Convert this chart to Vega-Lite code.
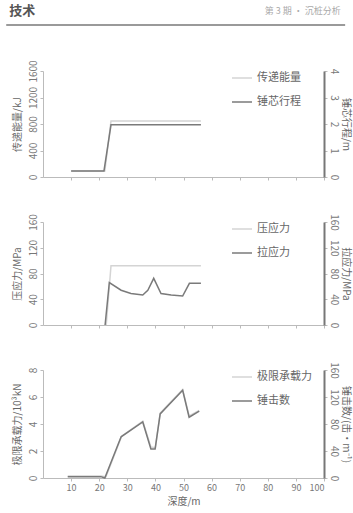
{
  "$schema": "https://vega.github.io/schema/vega-lite/v6.json",
  "padding": {"left": 5, "top": 5, "right": 3, "bottom": 2},
  "background": "white",
  "config": {
    "font": "Noto Sans CJK SC",
    "view": {"stroke": null},
    "axis": {"labelColor": "#777", "titleColor": "#666", "labelFontSize": 10, "titleFontSize": 10, "titleFontWeight": "normal", "grid": false, "tickColor": "#bbb", "domainColor": "#bbb", "tickSize": 3, "labelOverlap": false, "format": "d"},
    "legend": {"labelColor": "#666", "labelFontSize": 11, "symbolType": "stroke", "symbolSize": 400, "symbolStrokeWidth": 1.5, "rowPadding": 8, "padding": 0, "title": null, "orient": "none", "legendX": 188, "legendY": -4}
  },
  "datasets": {
    "head": [
      {"side": "left", "t": "技术"},
      {"side": "right", "t": "第 3 期 · 沉桩分析"}
    ],
    "p1": [
      {"series": "传递能量", "depth": 10, "value": 90},
      {"series": "传递能量", "depth": 22, "value": 90},
      {"series": "传递能量", "depth": 24.2, "value": 845},
      {"series": "传递能量", "depth": 56.2, "value": 845},
      {"series": "锤芯行程", "depth": 10, "value": 0.23},
      {"series": "锤芯行程", "depth": 21.7, "value": 0.23},
      {"series": "锤芯行程", "depth": 24.2, "value": 1.97},
      {"series": "锤芯行程", "depth": 56.2, "value": 1.97}
    ],
    "p2": [
      {"series": "压应力", "depth": 22.5, "value": 0},
      {"series": "压应力", "depth": 24.2, "value": 92},
      {"series": "压应力", "depth": 56.2, "value": 92},
      {"series": "拉应力", "depth": 22.1, "value": 0},
      {"series": "拉应力", "depth": 23.6, "value": 66},
      {"series": "拉应力", "depth": 27.8, "value": 54},
      {"series": "拉应力", "depth": 31.3, "value": 49},
      {"series": "拉应力", "depth": 35.5, "value": 46.6},
      {"series": "拉应力", "depth": 37.3, "value": 54},
      {"series": "拉应力", "depth": 39.4, "value": 72.5},
      {"series": "拉应力", "depth": 42, "value": 49},
      {"series": "拉应力", "depth": 45.6, "value": 46.6},
      {"series": "拉应力", "depth": 49.7, "value": 45},
      {"series": "拉应力", "depth": 52.1, "value": 64.8},
      {"series": "拉应力", "depth": 56.2, "value": 64.8}
    ],
    "p3": [
      {"series": "极限承载力", "depth": 8.8, "value": 0.15},
      {"series": "极限承载力", "depth": 20.6, "value": 0.15},
      {"series": "极限承载力", "depth": 22.4, "value": 0.1},
      {"series": "极限承载力", "depth": 28, "value": 3.1},
      {"series": "极限承载力", "depth": 35.5, "value": 4.2},
      {"series": "极限承载力", "depth": 38.4, "value": 2.3},
      {"series": "极限承载力", "depth": 40, "value": 2.25},
      {"series": "极限承载力", "depth": 41.7, "value": 4.8},
      {"series": "极限承载力", "depth": 49.7, "value": 6.55},
      {"series": "极限承载力", "depth": 52, "value": 4.6},
      {"series": "极限承载力", "depth": 55.6, "value": 5.0},
      {"series": "锤击数", "depth": 8.8, "value": 2},
      {"series": "锤击数", "depth": 20.6, "value": 2},
      {"series": "锤击数", "depth": 22, "value": 0},
      {"series": "锤击数", "depth": 27.8, "value": 61},
      {"series": "锤击数", "depth": 35.5, "value": 83},
      {"series": "锤击数", "depth": 38.4, "value": 43},
      {"series": "锤击数", "depth": 39.9, "value": 43},
      {"series": "锤击数", "depth": 41.7, "value": 95},
      {"series": "锤击数", "depth": 49.7, "value": 130},
      {"series": "锤击数", "depth": 52, "value": 90},
      {"series": "锤击数", "depth": 55.6, "value": 99}
    ]
  },
  "resolve": {"scale": {"color": "independent"}, "legend": {"color": "independent"}},
  "spacing": 24,
  "vconcat": [
    {
      "width": 281, "height": 0,
      "data": {"name": "head"},
      "layer": [
        {
          "mark": {"type": "rule", "color": "#9a9a9a", "strokeWidth": 2},
          "encoding": {
            "x": {"datum": -0.13, "type": "quantitative", "scale": {"domain": [0, 1]}, "axis": null},
            "x2": {"datum": 1.075}
          }
        },
        {
          "transform": [{"filter": "datum.side === 'left'"}],
          "mark": {"type": "text", "align": "left", "dy": -14, "fontSize": 13, "fontWeight": "bold", "color": "#555"},
          "encoding": {
            "x": {"datum": -0.12, "type": "quantitative"},
            "text": {"field": "t"}
          }
        },
        {
          "transform": [{"filter": "datum.side === 'right'"}],
          "mark": {"type": "text", "align": "right", "dy": -14, "fontSize": 9, "color": "#aaa"},
          "encoding": {
            "x": {"datum": 1.06, "type": "quantitative"},
            "text": {"field": "t"}
          }
        }
      ]
    },
    {
      "spacing": 32,
      "resolve": {"scale": {"color": "independent"}, "legend": {"color": "independent"}},
      "vconcat": [
        {
          "width": 281, "height": 106,
          "data": {"name": "p1"},
          "encoding": {
            "x": {"field": "depth", "type": "quantitative", "scale": {"domain": [0, 100]}, "axis": {"title": null, "labels": false, "values": [10, 20, 30, 40, 50, 60, 70, 80, 90, 100]}}
          },
          "layer": [
            {
              "transform": [{"filter": "datum.series === '传递能量'"}],
              "mark": {"type": "line", "strokeWidth": 1.5},
              "encoding": {
                "y": {"field": "value", "type": "quantitative", "scale": {"domain": [0, 1600]}, "axis": {"title": "传递能量/kJ", "values": [0, 400, 800, 1200, 1600], "labelAngle": -90, "labelAlign": "center", "labelBaseline": "bottom", "titlePadding": 6}},
                "color": {"field": "series", "type": "nominal", "scale": {"domain": ["传递能量", "锤芯行程"], "range": ["#d4d4d4", "#7a7a7a"]}}
              }
            },
            {
              "transform": [{"filter": "datum.series === '锤芯行程'"}],
              "mark": {"type": "line", "strokeWidth": 1.5},
              "encoding": {
                "y": {"field": "value", "type": "quantitative", "scale": {"domain": [0, 4]}, "axis": {"orient": "right", "title": "锤芯行程/m", "values": [0, 1, 2, 3, 4], "labelAngle": 90, "labelAlign": "center", "labelBaseline": "bottom", "domainColor": "#777", "domainWidth": 2, "titlePadding": 2, "labelPadding": 1}},
                "color": {"field": "series", "type": "nominal"}
              }
            }
          ],
          "resolve": {"scale": {"y": "independent"}}
        },
        {
          "width": 281, "height": 103,
          "data": {"name": "p2"},
          "encoding": {
            "x": {"field": "depth", "type": "quantitative", "scale": {"domain": [0, 100]}, "axis": {"title": null, "labels": false, "values": [10, 20, 30, 40, 50, 60, 70, 80, 90, 100]}}
          },
          "layer": [
            {
              "transform": [{"filter": "datum.series === '压应力'"}],
              "mark": {"type": "line", "strokeWidth": 1.5},
              "encoding": {
                "y": {"field": "value", "type": "quantitative", "scale": {"domain": [0, 160]}, "axis": {"title": "压应力/MPa", "values": [0, 40, 80, 120, 160], "labelAngle": -90, "labelAlign": "center", "labelBaseline": "bottom", "titlePadding": 6}},
                "color": {"field": "series", "type": "nominal", "scale": {"domain": ["压应力", "拉应力"], "range": ["#d4d4d4", "#7a7a7a"]}}
              }
            },
            {
              "transform": [{"filter": "datum.series === '拉应力'"}],
              "mark": {"type": "line", "strokeWidth": 1.5},
              "encoding": {
                "y": {"field": "value", "type": "quantitative", "scale": {"domain": [0, 160]}, "axis": {"orient": "right", "title": "拉应力/MPa", "values": [0, 40, 80, 120, 160], "labelAngle": 90, "labelAlign": "center", "labelBaseline": "bottom", "domainColor": "#777", "domainWidth": 2, "titlePadding": 2, "labelPadding": 1}},
                "color": {"field": "series", "type": "nominal"}
              }
            }
          ],
          "resolve": {"scale": {"y": "independent"}}
        },
        {
          "width": 281, "height": 108,
          "data": {"name": "p3"},
          "encoding": {
            "x": {"field": "depth", "type": "quantitative", "scale": {"domain": [0, 100]}, "axis": {"title": "深度/m", "values": [10, 20, 30, 40, 50, 60, 70, 80, 90, 100], "labelAngle": 0, "labelFontSize": 9, "labelOverlap": false, "labelPadding": 2, "titlePadding": 4}}
          },
          "layer": [
            {
              "transform": [{"filter": "datum.series === '极限承载力'"}],
              "mark": {"type": "line", "strokeWidth": 1.5},
              "encoding": {
                "y": {"field": "value", "type": "quantitative", "scale": {"domain": [0, 8]}, "axis": {"title": "极限承载力/10³kN", "values": [0, 2, 4, 6, 8], "labelAngle": -90, "labelAlign": "center", "labelBaseline": "bottom", "titlePadding": 6}},
                "color": {"field": "series", "type": "nominal", "scale": {"domain": ["极限承载力", "锤击数"], "range": ["#d4d4d4", "#7a7a7a"]}}
              }
            },
            {
              "transform": [{"filter": "datum.series === '锤击数'"}],
              "mark": {"type": "line", "strokeWidth": 1.5},
              "encoding": {
                "y": {"field": "value", "type": "quantitative", "scale": {"domain": [0, 160]}, "axis": {"orient": "right", "title": "锤击数/(击·m⁻¹)", "values": [0, 40, 80, 120, 160], "labelAngle": 90, "labelAlign": "center", "labelBaseline": "bottom", "domainColor": "#777", "domainWidth": 2, "titlePadding": 2, "labelPadding": 1}},
                "color": {"field": "series", "type": "nominal"}
              }
            }
          ],
          "resolve": {"scale": {"y": "independent"}}
        }
      ]
    }
  ]
}
